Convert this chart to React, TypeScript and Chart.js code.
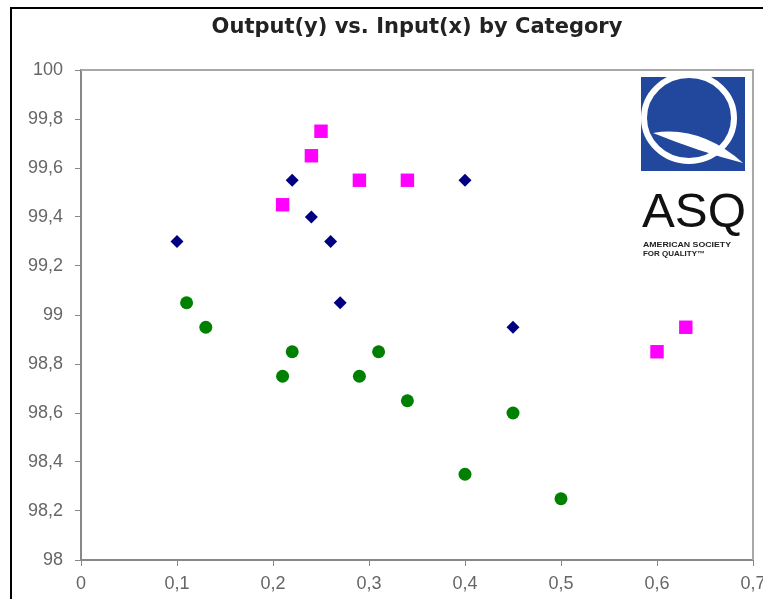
import React, { useEffect, useRef } from "react";
import { Chart, registerables } from "chart.js";

Chart.register(...registerables);

const chartTitle = "Output(y) vs. Input(x) by Category";

const xTickValues = [0, 0.1, 0.2, 0.3, 0.4, 0.5, 0.6, 0.7];
const yTickValues = [98, 98.2, 98.4, 98.6, 98.8, 99, 99.2, 99.4, 99.6, 99.8, 100];

const navyX = [0.1, 0.22, 0.24, 0.26, 0.27, 0.4, 0.45];
const navyY = [99.3, 99.55, 99.4, 99.3, 99.05, 99.55, 98.95];

const magentaX = [0.21, 0.24, 0.25, 0.29, 0.34, 0.6, 0.63];
const magentaY = [99.45, 99.65, 99.75, 99.55, 99.55, 98.85, 98.95];

const greenX = [0.11, 0.13, 0.21, 0.22, 0.29, 0.31, 0.34, 0.4, 0.45, 0.5];
const greenY = [99.05, 98.95, 98.75, 98.85, 98.75, 98.85, 98.65, 98.35, 98.6, 98.25];

const logoLine1 = "AMERICAN SOCIETY";
const logoLine2 = "FOR QUALITY\u2122";

const toPoints = (xs: number[], ys: number[]) => xs.map((x, i) => ({ x, y: ys[i] }));
const fmt = (v: number) => String(Math.round(v * 10) / 10).replace(".", ",");

const CANVAS_W = 790;
const CANVAS_H = 599;

const plotBorder = {
  id: "plotBorder",
  beforeDatasetsDraw(chart: any) {
    const { ctx, chartArea: a } = chart;
    ctx.save();
    ctx.strokeStyle = "#a8a8a8";
    ctx.lineWidth = 2;
    ctx.beginPath();
    ctx.moveTo(a.left, a.top);
    ctx.lineTo(a.right, a.top);
    ctx.lineTo(a.right, a.bottom);
    ctx.stroke();
    ctx.restore();
  },
};

export default function App() {
  const canvasRef = useRef<HTMLCanvasElement | null>(null);

  useEffect(() => {
    if (!canvasRef.current) return;
    const tickFont = { family: "'Liberation Sans', Arial, sans-serif", size: 18 };
    const chart = new Chart(canvasRef.current, {
      type: "scatter",
      data: {
        datasets: [
          {
            label: "Category 1",
            data: toPoints(navyX, navyY),
            pointStyle: "rectRot",
            pointRadius: 6.5,
            backgroundColor: "#000080",
            borderColor: "#000080",
            borderWidth: 0,
          },
          {
            label: "Category 2",
            data: toPoints(magentaX, magentaY),
            pointStyle: "rect",
            pointRadius: 9.5,
            backgroundColor: "#ff00ff",
            borderColor: "#ff00ff",
            borderWidth: 0,
          },
          {
            label: "Category 3",
            data: toPoints(greenX, greenY),
            pointStyle: "circle",
            pointRadius: 6.5,
            backgroundColor: "#008000",
            borderColor: "#008000",
            borderWidth: 0,
          },
        ],
      },
      options: {
        responsive: false,
        animation: false,
        devicePixelRatio: 1,
        layout: { padding: { left: 0, right: CANVAS_W - 753, top: 0, bottom: 0 } },
        plugins: {
          legend: { display: false },
          tooltip: { enabled: false },
          title: {
            display: true,
            text: chartTitle,
            fullSize: false,
            color: "#222",
            font: { family: "'DejaVu Sans', Verdana, sans-serif", size: 21, weight: "bold" },
            padding: { top: 15, bottom: 29.8 },
          },
        },
        scales: {
          x: {
            type: "linear",
            min: 0,
            max: 0.7,
            afterBuildTicks: (scale: any) => {
              scale.ticks = xTickValues.map((value) => ({ value }));
            },
            afterFit: (scale: any) => {
              scale.height = CANVAS_H - 560;
            },
            grid: { display: true, drawOnChartArea: false, drawTicks: true, tickLength: 6, color: "#888" },
            border: { display: true, color: "#888", width: 2 },
            ticks: { color: "#666", font: tickFont, padding: 7, maxRotation: 0, autoSkip: false, callback: (v: any) => fmt(Number(v)) },
          },
          y: {
            type: "linear",
            min: 98,
            max: 100,
            afterBuildTicks: (scale: any) => {
              scale.ticks = yTickValues.map((value) => ({ value }));
            },
            afterFit: (scale: any) => {
              scale.width = 81;
            },
            grid: { display: true, drawOnChartArea: false, drawTicks: true, tickLength: 6, color: "#888" },
            border: { display: true, color: "#888", width: 2 },
            ticks: { color: "#666", font: tickFont, padding: 12, autoSkip: false, callback: (v: any) => fmt(Number(v)) },
          },
        },
      },
      plugins: [plotBorder],
    });
    return () => chart.destroy();
  }, []);

  return (
    <div
      style={{
        position: "fixed",
        left: 0,
        top: 0,
        width: 763,
        height: 599,
        overflow: "hidden",
        background: "#fff",
      }}
    >
      <div
        style={{
          position: "absolute",
          left: 10,
          top: 7,
          width: 800,
          height: 640,
          border: "2px solid #000",
          background: "#fff",
        }}
      />
      <canvas
        ref={canvasRef}
        width={CANVAS_W}
        height={CANVAS_H}
        style={{ position: "absolute", left: 0, top: 0, width: CANVAS_W, height: CANVAS_H }}
      />
      <svg
        width={763}
        height={599}
        style={{ position: "absolute", left: 0, top: 0, pointerEvents: "none" }}
      >
        <defs>
          <clipPath id="asqSquare">
            <rect x={641} y={77} width={104} height={94} />
          </clipPath>
        </defs>
        <rect x={641} y={77} width={104} height={94} fill="#22489e" />
        <g clipPath="url(#asqSquare)">
          <ellipse cx={689} cy={118} rx={45} ry={43} fill="none" stroke="#fff" strokeWidth={6} />
          <path d="M653 133 Q700 125 743 163 Q700 152 653 133 Z" fill="#fff" />
        </g>
        <text
          x={642}
          y={227}
          fontFamily="'Liberation Sans', Arial, sans-serif"
          fontSize={48}
          fill="#111"
          textLength={104}
          lengthAdjust="spacingAndGlyphs"
        >
          ASQ
        </text>
        <text
          x={643}
          y={247}
          fontFamily="'Liberation Sans', Arial, sans-serif"
          fontSize={7}
          fontWeight="bold"
          fill="#222"
          textLength={88}
          lengthAdjust="spacingAndGlyphs"
        >
          {logoLine1}
        </text>
        <text
          x={643}
          y={256}
          fontFamily="'Liberation Sans', Arial, sans-serif"
          fontSize={7}
          fontWeight="bold"
          fill="#222"
          textLength={62}
          lengthAdjust="spacingAndGlyphs"
        >
          {logoLine2}
        </text>
      </svg>
    </div>
  );
}
